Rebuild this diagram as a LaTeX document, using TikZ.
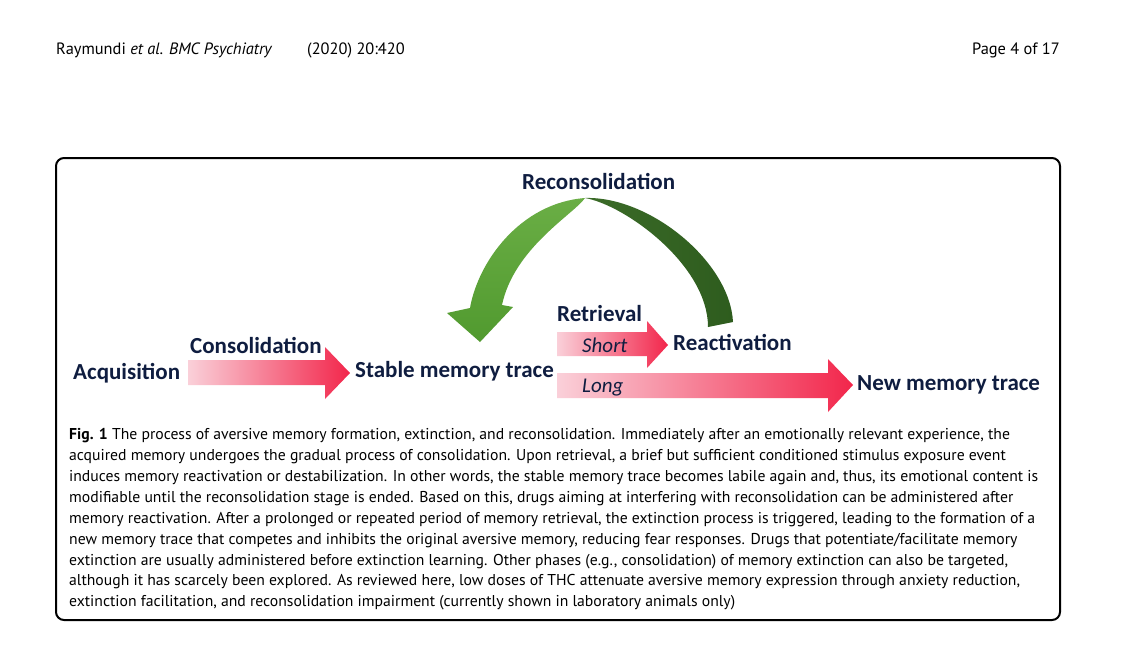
\documentclass[tikz,border=0pt]{standalone}
\usepackage{fontspec}
\setmainfont{PT Sans}
\newfontfamily\labfont{Carlito}
\definecolor{navy}{HTML}{0F1D40}
\definecolor{glight}{HTML}{6AAE45}
\definecolor{glight2}{HTML}{519A2F}
\definecolor{gdark}{HTML}{2E5C1E}
\definecolor{gdark2}{HTML}{3B6B28}
\definecolor{pinkl}{HTML}{FAD0D9}
\definecolor{pinkr}{HTML}{F2264B}
\begin{document}
\begin{tikzpicture}[x=1pt,y=-1pt,
  lab/.style={font=\labfont\bfseries\fontsize{23}{27}\selectfont, text=navy, inner sep=0, anchor=base west},
  ital/.style={font=\labfont\itshape\fontsize{21}{25}\selectfont, text=navy, inner sep=0, anchor=base west},
  captext/.style={font=\fontsize{15.7}{19}\selectfont, inner sep=0, anchor=base west},
  hdr/.style={font=\fontsize{16.4}{20}\selectfont, inner sep=0},
  pinkarrow/.style={left color=pinkl, right color=pinkr, draw=none}
]
\useasboundingbox (0,0) rectangle (1121,670);
\fill[white] (0,0) rectangle (1121,670);

% header
\node[hdr, anchor=base west] (h1) at (56,54) {Raymundi \textit{et al. BMC Psychiatry}};
\node[hdr, anchor=base west] (h2) at (307,54) {(2020) 20:420};
\node[hdr, anchor=base east] (h3) at (1060,54) {Page 4 of 17};

% frame
\draw[line width=2pt, rounded corners=8pt] (56,158) rectangle (1060,620);

% labels
\node[lab] (recon) at (522,189) {Reconsolidation};
\node[lab] (acq) at (73,379) {Acquisition};
\node[lab] (cons) at (190,353) {Consolidation};
\node[lab] (stable) at (355,377) {Stable memory trace};
\node[lab] (retr) at (557,321) {Retrieval};
\node[lab] (react) at (673,350) {Reactivation};
\node[lab] (newm) at (857,390) {New memory trace};

% green curved arrow: dark back part (widening from apex)
\shade[left color=gdark2, right color=gdark] (585,198) .. controls (650,196) and (730,262) .. (733,322)
  -- (708,327) .. controls (708,265) and (625,205) .. (585,198) -- cycle;
% light front part with head (tapering to apex)
\shade[top color=glight, bottom color=glight2] (470,308) .. controls (478,262) and (520,203) .. (585,198)
  .. controls (574,214) and (514,248) .. (502,305)
  -- (513,307) -- (480,342) -- (447,313) -- cycle;

% pink block arrows
\shade[pinkarrow] (188,360) -- (325,360) -- (325,347) -- (350,373) -- (325,399) -- (325,385) -- (188,385) -- cycle;
\shade[pinkarrow] (557,332) -- (647,332) -- (647,321) -- (668,345) -- (647,368) -- (647,356) -- (557,356) -- cycle;
\shade[pinkarrow] (557,373) -- (828,373) -- (828,359) -- (853,385) -- (828,412) -- (828,398) -- (557,398) -- cycle;

\node[ital] (short) at (582,352) {Short};
\node[ital] (long) at (582,392) {Long};

% caption
\node[captext] (c1) at (69,439) {\textbf{Fig. 1} The process of aversive memory formation, extinction, and reconsolidation. Immediately after an emotionally relevant experience, the};
\node[captext] (c2) at (69,460) {acquired memory undergoes the gradual process of consolidation. Upon retrieval, a brief but sufficient conditioned stimulus exposure event};
\node[captext] (c3) at (69,481) {induces memory reactivation or destabilization. In other words, the stable memory trace becomes labile again and, thus, its emotional content is};
\node[captext] (c4) at (69,502) {modifiable until the reconsolidation stage is ended. Based on this, drugs aiming at interfering with reconsolidation can be administered after};
\node[captext] (c5) at (69,523) {memory reactivation. After a prolonged or repeated period of memory retrieval, the extinction process is triggered, leading to the formation of a};
\node[captext] (c6) at (69,544) {new memory trace that competes and inhibits the original aversive memory, reducing fear responses. Drugs that potentiate/facilitate memory};
\node[captext] (c7) at (69,565) {extinction are usually administered before extinction learning. Other phases (e.g., consolidation) of memory extinction can also be targeted,};
\node[captext] (c8) at (69,585) {although it has scarcely been explored. As reviewed here, low doses of THC attenuate aversive memory expression through anxiety reduction,};
\node[captext] (c9) at (69,606) {extinction facilitation, and reconsolidation impairment (currently shown in laboratory animals only)};
\end{tikzpicture}
\end{document}
